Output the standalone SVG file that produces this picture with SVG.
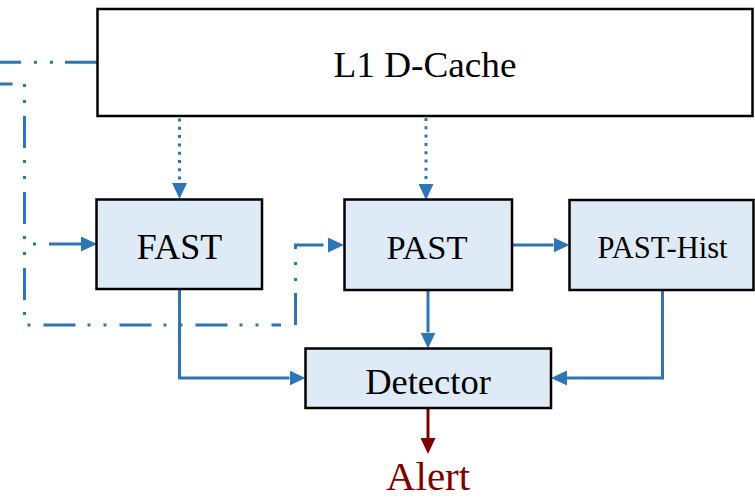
<svg xmlns="http://www.w3.org/2000/svg" width="755" height="500" viewBox="0 0 755 500">
  <style>
    .box { stroke: #000; stroke-width: 2.5; }
    .plain { fill: #fff; }
    .unit { fill: #DEEBF7; }
    .lbl { font-family: "Liberation Serif", "Times New Roman", serif; fill: #000; text-anchor: middle; }
    .wire { fill: none; stroke: #2E75B6; stroke-width: 3; }
    .dotted { stroke-dasharray: 3 5.3; }
    .dashdot { stroke-dasharray: 32 12 3 13 3 13; }
    .alert { fill: none; stroke: #7F0000; stroke-width: 3; }
  </style>
  <defs>
    <marker id="arrow" viewBox="0 0 16 15" refX="0" refY="7.5" markerWidth="16" markerHeight="15" markerUnits="userSpaceOnUse" orient="auto">
      <path d="M0,0 L16,7.5 L0,15 z" fill="#2E75B6"/>
    </marker>
    <marker id="arrowRed" viewBox="0 0 16 15" refX="0" refY="7.5" markerWidth="16" markerHeight="15" markerUnits="userSpaceOnUse" orient="auto">
      <path d="M0,0 L16,7.5 L0,15 z" fill="#7F0000"/>
    </marker>
  </defs>

  <!-- connectors -->
  <g id="connectors">
    <!-- cache to the two trackers (dotted) -->
    <path class="wire dotted" d="M179.5,118.5 V183" marker-end="url(#arrow)"/>
    <path class="wire dotted" d="M426,118 V184" marker-end="url(#arrow)"/>
    <!-- dash-dot feed lines on the left -->
    <path class="wire dashdot" d="M97,62.3 H0"/>
    <path class="wire dashdot" stroke-dashoffset="19.5" d="M0,84 H24.5 V325 H281"/>
    <path class="wire dashdot" stroke-dashoffset="51.5" d="M24.5,244 H81" marker-end="url(#arrow)"/>
    <path class="wire dashdot" d="M295.5,325 V245 H328" marker-end="url(#arrow)"/>
    <!-- solid data paths -->
    <path class="wire" d="M512,245 H553.5" marker-end="url(#arrow)"/>
    <path class="wire" d="M179.5,289 V378 H289.5" marker-end="url(#arrow)"/>
    <path class="wire" d="M428,290 V332.5" marker-end="url(#arrow)"/>
    <path class="wire" d="M662.5,290 V378 H567" marker-end="url(#arrow)"/>
    <!-- alert output -->
    <path class="alert" d="M428,409 V438" marker-end="url(#arrowRed)"/>
  </g>

  <g id="l1-dcache">
    <rect class="box plain" x="97.5" y="9" width="655" height="107"/>
    <text class="lbl" x="425" y="76.5" font-size="35" textLength="183" lengthAdjust="spacingAndGlyphs">L1 D-Cache</text>
  </g>

  <g id="fast">
    <rect class="box unit" x="96.5" y="199.5" width="165.5" height="89.5"/>
    <text class="lbl" x="179.5" y="259" font-size="36">FAST</text>
  </g>

  <g id="past">
    <rect class="box unit" x="344.5" y="199.5" width="167.5" height="90.5"/>
    <text class="lbl" x="427" y="258.5" font-size="34.5">PAST</text>
  </g>

  <g id="past-hist">
    <rect class="box unit" x="569.5" y="200" width="184" height="90"/>
    <text class="lbl" x="662.5" y="257.5" font-size="30.5">PAST-Hist</text>
  </g>

  <g id="detector">
    <rect class="box unit" x="305.5" y="348.5" width="245.5" height="59.5"/>
    <text class="lbl" x="428" y="393.5" font-size="36.5">Detector</text>
  </g>

  <g id="alert">
    <text class="lbl" x="428" y="490" font-size="41" style="fill:#7F0000">Alert</text>
  </g>
</svg>
